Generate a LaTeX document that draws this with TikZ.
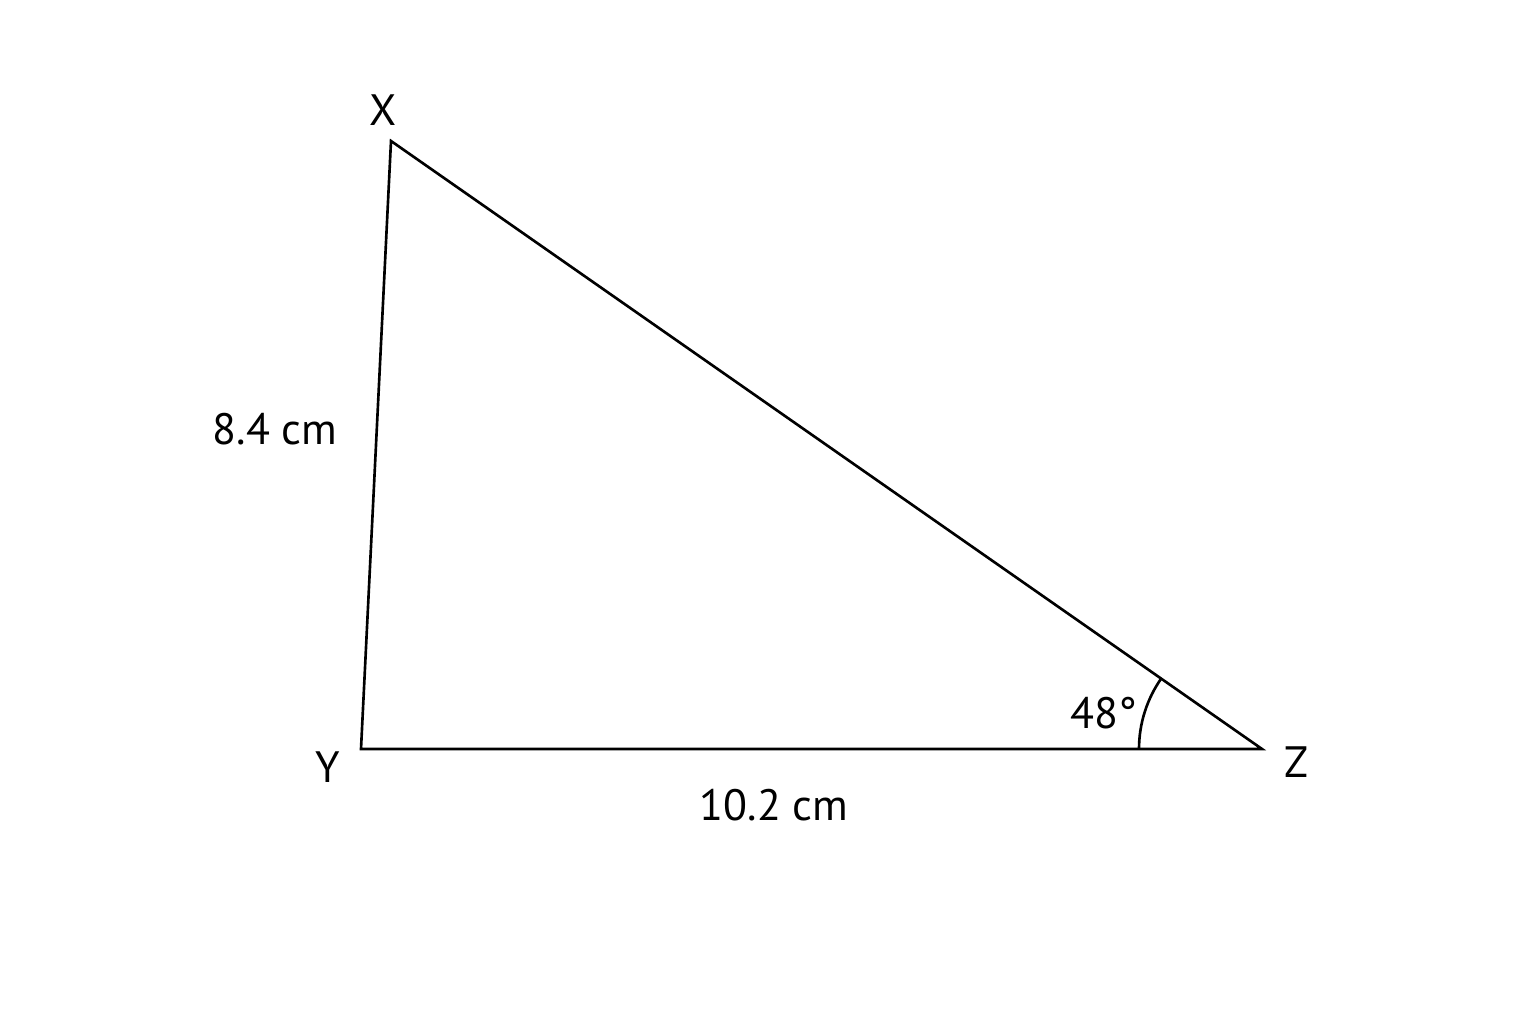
\documentclass[tikz,border=0pt]{standalone}
\usepackage{fontspec}
\setmainfont{PT Sans}
\usepackage{tikz}
\usetikzlibrary{positioning}

\begin{document}
\begin{tikzpicture}[every node/.style = { font = \fontsize{12.5}{15}\selectfont, inner sep = 0pt },
    side/.style = { line width = .75pt }]
      \useasboundingbox (0,0) rectangle (15.36,10.24);
      \coordinate (x) at (3.91,8.83);
      \coordinate (y) at (3.61,2.75);
      \coordinate (z) at (12.62,2.75);
      \draw [side, line join = miter] (x) -- (y) -- (z) -- cycle;
      \draw [side] ([shift={(180:1.23)}]z) arc [start angle = 180, end angle = 145.1, radius = 1.23];

      \node (labx) at (3.83,9.14) { X };
      \node (laby) at (3.28,2.57) { Y };
      \node (labz) at (12.96,2.62) { Z };
      \node (xy) at (2.75,5.95) { 8.4 cm };
      \node (yz) at (7.74,2.19) { 10.2 cm };
      \node (ang) at (11.04,3.11) { 48° };
    \end{tikzpicture}
\end{document}
